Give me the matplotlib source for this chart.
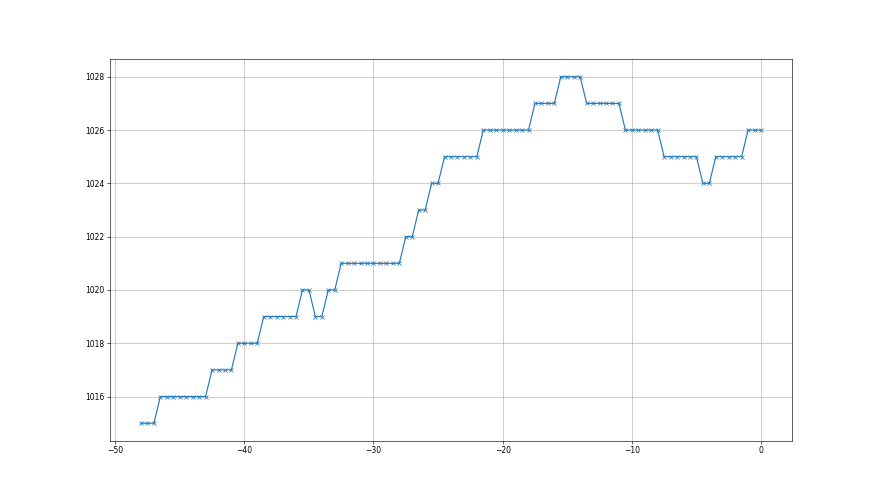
import matplotlib
matplotlib.use('Agg')
import matplotlib.pyplot as plt

# hours before now
hours = [-48.0, -47.5, -47.0, -46.5, -46.0, -45.5, -45.0, -44.5, -44.0, -43.5, -43.0,
         -42.5, -42.0, -41.5, -41.0, -40.5, -40.0, -39.5, -39.0, -38.5, -38.0, -37.5,
         -37.0, -36.5, -36.0, -35.5, -35.0, -34.5, -34.0, -33.5, -33.0, -32.5, -32.0,
         -31.5, -31.0, -30.5, -30.0, -29.5, -29.0, -28.5, -28.0, -27.5, -27.0, -26.5,
         -26.0, -25.5, -25.0, -24.5, -24.0, -23.5, -23.0, -22.5, -22.0, -21.5, -21.0,
         -20.5, -20.0, -19.5, -19.0, -18.5, -18.0, -17.5, -17.0, -16.5, -16.0, -15.5,
         -15.0, -14.5, -14.0, -13.5, -13.0, -12.5, -12.0, -11.5, -11.0, -10.5, -10.0,
         -9.5, -9.0, -8.5, -8.0, -7.5, -7.0, -6.5, -6.0, -5.5, -5.0, -4.5, -4.0,
         -3.5, -3.0, -2.5, -2.0, -1.5, -1.0, -0.5, 0.0]

pressure = ([1015] * 3 + [1016] * 8 + [1017] * 4 + [1018] * 4 + [1019] * 6 +
            [1020] * 2 + [1019] * 2 + [1020] * 2 + [1021] * 10 + [1022] * 2 +
            [1023] * 2 + [1024] * 2 + [1025] * 6 + [1026] * 8 + [1027] * 4 +
            [1028] * 4 + [1027] * 6 + [1026] * 6 + [1025] * 6 + [1024] * 2 +
            [1025] * 5 + [1026] * 3)

fig = plt.figure(figsize=(16, 9), dpi=55)
ax = fig.add_subplot(111)
ax.plot(hours, pressure, marker='x', color='#1f77b4')
ax.grid(True)
fig.savefig('out.png', dpi=55)
